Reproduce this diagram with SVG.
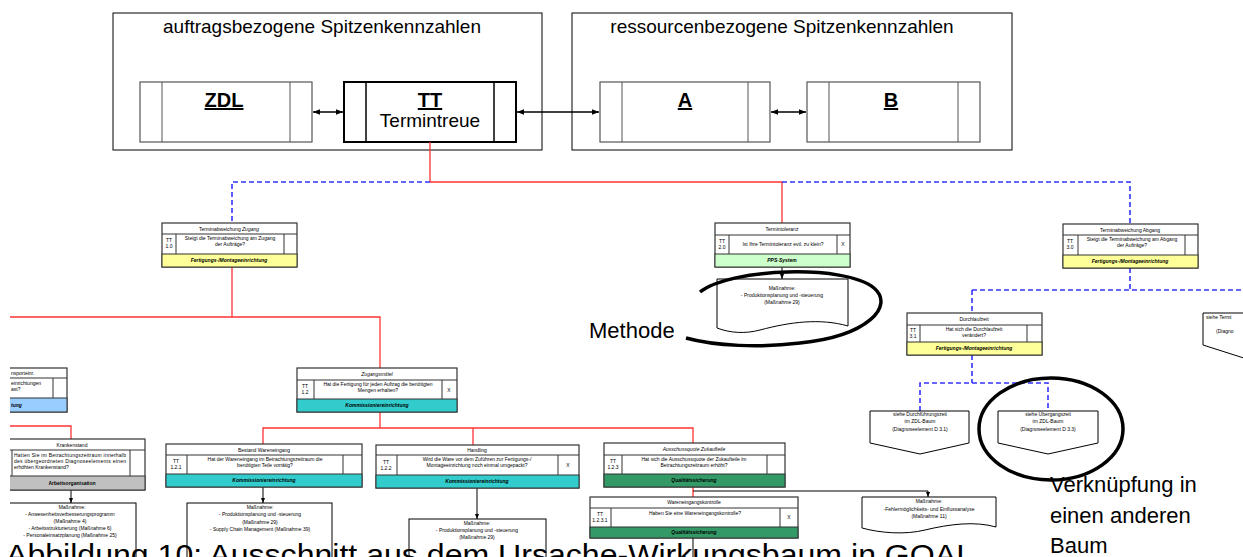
<svg xmlns="http://www.w3.org/2000/svg" width="1243" height="557" viewBox="0 0 1243 557">
<defs>
<marker id="ah" viewBox="0 0 10 10" refX="10" refY="5" markerWidth="7" markerHeight="7" orient="auto-start-reverse" markerUnits="userSpaceOnUse"><path d="M0,1 L10,5 L0,9 z" fill="#000"/></marker>
<marker id="sah" viewBox="0 0 10 10" refX="10" refY="5" markerWidth="5" markerHeight="5" orient="auto" markerUnits="userSpaceOnUse"><path d="M0,1 L10,5 L0,9 z" fill="#000"/></marker>
<clipPath id="cl"><rect x="10" y="0" width="1233" height="557"/></clipPath>
</defs>
<style>
text{font-family:"Liberation Sans",Arial,sans-serif;fill:#000}
.big{font-size:19px}
.hd{font-size:20px;font-weight:bold;text-decoration:underline}
.ann{font-size:22px}
.s{font-size:5px;text-anchor:middle}
.sl{font-size:5px}
.si{font-size:5px;text-anchor:middle;font-style:italic;font-weight:bold}
.box{fill:#fff;stroke:#333;stroke-width:1.2}
.thin{fill:none;stroke:#333;stroke-width:1}
.red{fill:none;stroke:#ff3333;stroke-width:1.3}
.blue{fill:none;stroke:#3333ff;stroke-width:1.6;stroke-dasharray:5,3}
.blk{fill:none;stroke:#000;stroke-width:1}
.loop{fill:none;stroke:#000;stroke-width:3.5}
.yel{fill:#ffff99;stroke:#333;stroke-width:1}
.grn{fill:#ccffcc;stroke:#333;stroke-width:1}
.cyan{fill:#33cccc;stroke:#333;stroke-width:1}
.dgrn{fill:#339966;stroke:#333;stroke-width:1}
.lblue{fill:#99ccff;stroke:#333;stroke-width:1}
.gray{fill:#c0c0c0;stroke:#333;stroke-width:1}
.doc{fill:#fff;stroke:#000;stroke-width:1}
</style>
<rect width="1243" height="557" fill="#fff"/>

<!-- top frames -->
<g id="frame-auftrag">
<rect x="113" y="13" width="429" height="137" fill="#fff" stroke="#000" stroke-width="1"/>
<text class="big" x="322" y="33" text-anchor="middle">auftragsbezogene Spitzenkennzahlen</text>
</g>
<g id="frame-ressource">
<rect x="572" y="13" width="440" height="137" fill="#fff" stroke="#000" stroke-width="1"/>
<text class="big" x="782" y="33" text-anchor="middle">ressourcenbezogene Spitzenkennzahlen</text>
</g>
<g id="node-ZDL">
<rect x="140" y="82" width="172" height="60" fill="#fff" stroke="#555" stroke-width="1.2"/>
<line x1="162" y1="82" x2="162" y2="142" stroke="#555"/><line x1="290" y1="82" x2="290" y2="142" stroke="#555"/>
<text class="hd" x="224" y="107" text-anchor="middle">ZDL</text>
</g>
<g id="node-TT">
<rect x="344" y="82" width="172" height="60" fill="#fff" stroke="#000" stroke-width="2"/>
<line x1="366" y1="82" x2="366" y2="142" stroke="#000" stroke-width="1.5"/><line x1="494" y1="82" x2="494" y2="142" stroke="#000" stroke-width="1.5"/>
<text class="hd" x="430" y="107" text-anchor="middle">TT</text>
<text class="big" x="430" y="127" text-anchor="middle">Termintreue</text>
</g>
<g id="node-A">
<rect x="600" y="82" width="170" height="60" fill="#fff" stroke="#555" stroke-width="1.2"/>
<line x1="622" y1="82" x2="622" y2="142" stroke="#555"/><line x1="748" y1="82" x2="748" y2="142" stroke="#555"/>
<text class="hd" x="685" y="107" text-anchor="middle">A</text>
</g>
<g id="node-B">
<rect x="807" y="82" width="173" height="60" fill="#fff" stroke="#555" stroke-width="1.2"/>
<line x1="829" y1="82" x2="829" y2="142" stroke="#555"/><line x1="958" y1="82" x2="958" y2="142" stroke="#555"/>
<text class="hd" x="891" y="107" text-anchor="middle">B</text>
</g>

<!-- connectors -->
<g id="connectors">
<line x1="313" y1="112" x2="343" y2="112" stroke="#000" stroke-width="1.5" marker-start="url(#ah)" marker-end="url(#ah)"/>
<line x1="517" y1="112" x2="599" y2="112" stroke="#000" stroke-width="1.5" marker-start="url(#ah)" marker-end="url(#ah)"/>
<line x1="771" y1="112" x2="806" y2="112" stroke="#000" stroke-width="1.5" marker-start="url(#ah)" marker-end="url(#ah)"/>
<path class="red" d="M430,142 V182 H782 V223"/>
<path class="blue" d="M430,182 H232 V223"/>
<path class="blue" d="M782,182 H1130 V224"/>
<path class="red" d="M232,267 V317"/>
<path class="red" d="M10,317 H380 V368"/>
<path class="blue" d="M1130,268 V290"/>
<path class="blue" d="M972,290 H1243"/>
<path class="blue" d="M972,290 V313"/>
<path class="blue" d="M972,355 V383"/>
<path class="blue" d="M920,411 V383 H1048 V411"/>
<path class="red" d="M380,412 V428"/>
<path class="red" d="M263,444 V428 H693 V443"/>
<path class="red" d="M473,428 V445"/>
<path class="red" d="M693,487 V497"/>
<path class="red" d="M10,426 H71 V439"/>
<path class="blk" d="M693,491 H928 V497" marker-end="url(#sah)"/>
<path class="blk" d="M693,538 V557"/>
<path class="blk" d="M782,267 V279" marker-end="url(#sah)"/>
<path class="blk" d="M71,490 V503" marker-end="url(#sah)"/>
<path class="blk" d="M263,487 V503" marker-end="url(#sah)"/>
<path class="blk" d="M477,488 V519" marker-end="url(#sah)"/>
</g>

<!-- Terminabweichung Zugang -->
<g id="n-tz">
<rect class="box" x="162" y="223" width="135" height="44"/>
<line class="thin" x1="162" y1="234" x2="297" y2="234"/>
<line class="thin" x1="176" y1="234" x2="176" y2="254"/>
<line class="thin" x1="284" y1="234" x2="284" y2="254"/>
<rect class="yel" x="162" y="254" width="135" height="13"/>
<text class="s" x="229" y="231">Terminabweichung <tspan font-style="italic">Zugang</tspan></text>
<text class="s" x="169" y="242">TT</text><text class="s" x="169" y="248">1.0</text>
<text class="s" x="230" y="240">Steigt die Terminabweichung am Zugang</text>
<text class="s" x="230" y="246">der Aufträge?</text>
<text class="si" x="229" y="262">Fertigungs-/Montageeinrichtung</text>
</g>

<!-- Termintoleranz -->
<g id="n-tt2">
<rect class="box" x="715" y="223" width="135" height="44"/>
<line class="thin" x1="715" y1="235" x2="850" y2="235"/>
<line class="thin" x1="729" y1="235" x2="729" y2="254"/>
<line class="thin" x1="837" y1="235" x2="837" y2="254"/>
<rect class="grn" x="715" y="254" width="135" height="13"/>
<text class="s" x="782" y="231">Termintoleranz</text>
<text class="s" x="722" y="243">TT</text><text class="s" x="722" y="249">2.0</text>
<text class="s" x="783" y="246">Ist Ihre Termintoleranz evtl. zu klein?</text>
<text class="s" x="843" y="246">X</text>
<text class="si" x="782" y="262">PPS-System</text>
</g>
<g id="m-tt2">
<path class="doc" d="M717,279 H848 V326 C820,318 790,322 760,330 C745,334 730,333 717,328 Z"/>
<text class="s" x="782" y="290">Maßnahme:</text>
<text class="s" x="782" y="297">- Produktionsplanung   und  -steuerung</text>
<text class="s" x="782" y="304">(Maßnahme  29)</text>
</g>

<!-- Terminabweichung Abgang -->
<g id="n-ta">
<rect class="box" x="1063" y="224" width="135" height="44"/>
<line class="thin" x1="1063" y1="235" x2="1198" y2="235"/>
<line class="thin" x1="1078" y1="235" x2="1078" y2="255"/>
<line class="thin" x1="1185" y1="235" x2="1185" y2="255"/>
<rect class="yel" x="1063" y="255" width="135" height="13"/>
<text class="s" x="1130" y="232">Terminabweichung Abgang</text>
<text class="s" x="1070" y="243">TT</text><text class="s" x="1070" y="249">3.0</text>
<text class="s" x="1132" y="241">Steigt die Terminabweichung am Abgang</text>
<text class="s" x="1132" y="247">der Aufträge?</text>
<text class="si" x="1130" y="263">Fertigungs-/Montageeinrichtung</text>
</g>

<!-- right partial off-page -->
<g id="op-right">
<path class="doc" d="M1203,313 H1250 V360 L1203,345 Z"/>
<text class="sl" x="1206" y="319">siehe Termi</text>
<text class="sl" x="1216" y="333">(Diagno</text>
</g>

<!-- Durchlaufzeit -->
<g id="n-dlz">
<rect class="box" x="907" y="313" width="135" height="42"/>
<line class="thin" x1="907" y1="325" x2="1042" y2="325"/>
<line class="thin" x1="920" y1="325" x2="920" y2="342"/>
<line class="thin" x1="1027" y1="325" x2="1027" y2="342"/>
<rect class="yel" x="907" y="342" width="135" height="13"/>
<text class="s" x="974" y="321">Durchlaufzeit</text>
<text class="s" x="913" y="332">TT</text><text class="s" x="913" y="338">3.1</text>
<text class="s" x="974" y="331">Hat sich die Durchlaufzeit</text>
<text class="s" x="974" y="337">verändert?</text>
<text class="si" x="974" y="350">Fertigungs-/Montageeinrichtung</text>
</g>

<!-- off-page connectors -->
<g id="op-dfz">
<path class="doc" d="M870,411 H969 V443 L920,454 L870,443 Z"/>
<text class="s" x="920" y="416">siehe Durchführungszeit</text>
<text class="s" x="920" y="423">im ZDL-Baum</text>
<text class="s" x="920" y="431">(Diagnoseelement    D 3.1)</text>
</g>
<g id="op-uez">
<path class="doc" d="M998,411 H1098 V443 L1048,454 L998,443 Z"/>
<text class="s" x="1048" y="416">siehe Übergangszeit</text>
<text class="s" x="1048" y="423">im ZDL-Baum</text>
<text class="s" x="1048" y="431">(Diagnoseelement    D 3.3)</text>
</g>

<!-- Zugangsmittel -->
<g id="n-zm">
<rect class="box" x="297" y="368" width="160" height="44"/>
<line class="thin" x1="297" y1="380" x2="457" y2="380"/>
<line class="thin" x1="314" y1="380" x2="314" y2="399"/>
<line class="thin" x1="442" y1="380" x2="442" y2="399"/>
<rect class="cyan" x="297" y="399" width="160" height="13"/>
<text class="s" x="377" y="376" font-style="italic">Zugangsmittel</text>
<text class="s" x="305" y="388">TT</text><text class="s" x="305" y="394">1.2</text>
<text class="s" x="378" y="386">Hat die Fertigung für jeden Auftrag die benötigten</text>
<text class="s" x="378" y="392">Mengen erhalten?</text>
<text class="s" x="449" y="392">X</text>
<text class="si" x="377" y="407">Kommissioniereinrichtung</text>
</g>

<!-- Bestand Wareneingang -->
<g id="n-bw">
<rect class="box" x="166" y="444" width="196" height="43"/>
<line class="thin" x1="166" y1="455" x2="362" y2="455"/>
<line class="thin" x1="187" y1="455" x2="187" y2="474"/>
<line class="thin" x1="343" y1="455" x2="343" y2="474"/>
<rect class="cyan" x="166" y="474" width="196" height="13"/>
<text class="s" x="264" y="452">Bestand  Wareneingang</text>
<text class="s" x="176" y="463">TT</text><text class="s" x="176" y="469">1.2.1</text>
<text class="s" x="265" y="461">Hat der Wareneingang im Betrachtungszeitraum die</text>
<text class="s" x="265" y="467">benötigten Teile vorrätig?</text>
<text class="si" x="264" y="482">Kommissioniereinrichtung</text>
</g>
<g id="m-bw">
<rect class="doc" x="187" y="503" width="145" height="60"/>
<text class="s" x="260" y="509">Maßnahme:</text>
<text class="s" x="260" y="516">- Produktionsplanung  und  -steuerung</text>
<text class="s" x="260" y="524">(Maßnahme  29)</text>
<text class="s" x="260" y="531">- Supply  Chain  Management   (Maßnahme  39)</text>
</g>

<!-- Handling -->
<g id="n-ha">
<rect class="box" x="376" y="445" width="203" height="43"/>
<line class="thin" x1="376" y1="455" x2="579" y2="455"/>
<line class="thin" x1="397" y1="455" x2="397" y2="475"/>
<line class="thin" x1="558" y1="455" x2="558" y2="475"/>
<rect class="cyan" x="376" y="475" width="203" height="13"/>
<text class="s" x="477" y="452">Handling</text>
<text class="s" x="386" y="464">TT</text><text class="s" x="386" y="470">1.2.2</text>
<text class="s" x="477" y="461">Wird die Ware vor dem Zuführen  zur Fertigungs-/</text>
<text class="s" x="477" y="467">Montageeinrichtung noch einmal umgepackt?</text>
<text class="s" x="568" y="467">X</text>
<text class="si" x="477" y="483">Kommissioniereinrichtung</text>
</g>
<g id="m-ha">
<rect class="doc" x="409" y="519" width="137" height="45"/>
<text class="s" x="477" y="525">Maßnahme:</text>
<text class="s" x="477" y="532">- Produktionsplanung  und  -steuerung</text>
<text class="s" x="477" y="539">(Maßnahme  29)</text>
</g>

<!-- Ausschussquote -->
<g id="n-aq">
<rect class="box" x="604" y="443" width="181" height="44"/>
<line class="thin" x1="604" y1="455" x2="785" y2="455"/>
<line class="thin" x1="622" y1="455" x2="622" y2="474"/>
<line class="thin" x1="767" y1="455" x2="767" y2="474"/>
<rect class="dgrn" x="604" y="474" width="181" height="13"/>
<text class="s" x="694" y="451" font-style="italic">Ausschussquote  Zukaufteile</text>
<text class="s" x="613" y="463">TT</text><text class="s" x="613" y="469">1.2.3</text>
<text class="s" x="694" y="461">Hat sich die Ausschussquote der Zukaufteile im</text>
<text class="s" x="694" y="467">Betrachtungszeitraum erhöht?</text>
<text class="si" x="694" y="482" font-weight="normal">Qualitätssicherung</text>
</g>

<!-- Wareneingangskontrolle -->
<g id="n-wek">
<rect class="box" x="590" y="497" width="208" height="41"/>
<line class="thin" x1="590" y1="508" x2="798" y2="508"/>
<line class="thin" x1="611" y1="508" x2="611" y2="527"/>
<line class="thin" x1="780" y1="508" x2="780" y2="527"/>
<rect class="dgrn" x="590" y="527" width="208" height="11"/>
<text class="s" x="694" y="504">Wareneingangskontrolle</text>
<text class="s" x="600" y="516">TT</text><text class="s" x="600" y="522">1.2.3.1</text>
<text class="s" x="695" y="515">Haben Sie eine  Wareneingangskontrolle?</text>
<text class="s" x="789" y="519">X</text>
<text class="si" x="694" y="534" font-weight="normal">Qualitätssicherung</text>
</g>

<!-- FMEA Massnahme -->
<g id="m-fmea">
<path class="doc" d="M862,497 H996 V527 C975,521 950,524 925,530 C905,535 880,533 862,528 Z"/>
<text class="s" x="929" y="503">Maßnahme:</text>
<text class="s" x="929" y="511">-Fehlermöglichkeits-   und  Einflussanalyse</text>
<text class="s" x="929" y="518">(Maßnahme  11)</text>
</g>

<!-- left clipped nodes -->
<g clip-path="url(#cl)">
<g id="n-tr">
<rect class="box" x="-70" y="368" width="137" height="44"/>
<line class="thin" x1="-70" y1="378" x2="67" y2="378"/>
<line class="thin" x1="53" y1="378" x2="53" y2="398"/>
<rect class="lblue" x="-70" y="398" width="137" height="14"/>
<text class="sl" x="11" y="375">nsporteinr.</text>
<text class="sl" x="11" y="385">einrichtungen</text>
<text class="sl" x="11" y="391">ast?</text>
<text class="sl" x="11" y="407" font-style="italic" font-weight="bold">tung</text>
</g>
<g id="n-ks">
<rect class="box" x="-10" y="439" width="155" height="51"/>
<line class="thin" x1="-10" y1="450" x2="145" y2="450"/>
<line class="thin" x1="12" y1="450" x2="12" y2="476"/>
<line class="thin" x1="130" y1="450" x2="130" y2="476"/>
<rect class="gray" x="-10" y="476" width="155" height="14"/>
<text class="s" x="72" y="447">Krankenstand</text>
<text class="sl" x="14" y="457" textLength="112" lengthAdjust="spacing">Hatten  Sie  im  Betrachtungszeitraum  innerhalb</text>
<text class="sl" x="14" y="463" textLength="112" lengthAdjust="spacing">des  übergeordneten  Diagnoseelements  einen</text>
<text class="sl" x="14" y="469">erhöhten Krankenstand?</text>
<text class="s" x="72" y="485" font-weight="bold">Arbeitsorganisation</text>
</g>
<g id="m-ks">
<rect class="doc" x="-10" y="503" width="146" height="60"/>
<text class="s" x="72" y="509">Maßnahme:</text>
<text class="s" x="70" y="516">- Anwesenheitsverbesserungsprogramm</text>
<text class="s" x="70" y="523">(Maßnahme  4)</text>
<text class="s" x="70" y="530">- Arbeitsstrukturierung   (Maßnahme  6)</text>
<text class="s" x="70" y="537">- Personaleinsatzplanung   (Maßnahme  25)</text>
</g>
</g>

<!-- annotations -->
<g id="ann-methode">
<path class="loop" d="M700,292 C730,268 845,264 874,288 C895,306 868,336 800,343 C760,348 715,346 686,338"/>
<text class="ann" x="589" y="338">Methode</text>
</g>
<g id="ann-verknuepfung">
<ellipse class="loop" cx="1051" cy="429" rx="72" ry="51"/>
<text class="ann" x="1050" y="492">Verknüpfung in</text>
<text class="ann" x="1050" y="523">einen anderen</text>
<text class="ann" x="1050" y="553">Baum</text>
</g>

<text x="6" y="565" font-size="30" textLength="968" lengthAdjust="spacingAndGlyphs">Abbildung 10: Ausschnitt aus dem Ursache-Wirkungsbaum in GOAL</text>
</svg>
